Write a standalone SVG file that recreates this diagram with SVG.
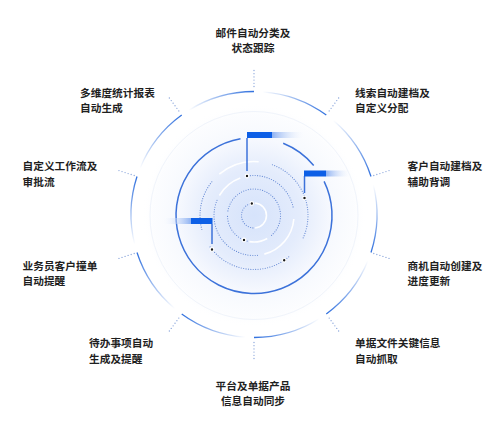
<svg xmlns="http://www.w3.org/2000/svg" width="500" height="426" viewBox="0 0 500 426">
<style>
.lbl{font-family:"Noto Sans CJK SC","Noto Sans",sans-serif;font-size:10.7px;font-weight:700;fill:#1f1f1f}
.mid{text-anchor:middle}
.tick{stroke:#87a3da;stroke-width:1.3;stroke-linecap:round;stroke-dasharray:0 3.2;fill:none}
.oarc{fill:none;stroke-width:1.3}
.dot{fill:none;stroke:#6a8dd6;stroke-width:1.2;stroke-linecap:round;stroke-dasharray:0 2.4}
.wht{fill:none;stroke:#ffffff;stroke-width:1.6;opacity:0.95}
.conn{stroke:#3c72da;stroke-width:1.5;fill:none}
.bar{fill:#0d5fe6}
.pt{fill:#1a1a1a;stroke:#ffffff;stroke-width:1.2}
</style>
<defs>
<radialGradient id="inner" cx="254" cy="215.5" r="78" gradientUnits="userSpaceOnUse">
<stop offset="0" stop-color="#d6e3fb"/>
<stop offset="0.6" stop-color="#e4ecfc"/>
<stop offset="1" stop-color="#f7f9fe"/>
</radialGradient>
<radialGradient id="halo" cx="254" cy="215.5" r="112" gradientUnits="userSpaceOnUse">
<stop offset="0.65" stop-color="#f2f6fd" stop-opacity="0.8"/>
<stop offset="0.9" stop-color="#f8fafe" stop-opacity="0.5"/>
<stop offset="1" stop-color="#ffffff" stop-opacity="0"/>
</radialGradient>
<linearGradient id="tailR" x1="0" y1="0" x2="1" y2="0">
<stop offset="0" stop-color="#8fb2f2"/>
<stop offset="1" stop-color="#ffffff" stop-opacity="0"/>
</linearGradient>
<linearGradient id="tailL" x1="1" y1="0" x2="0" y2="0">
<stop offset="0" stop-color="#8fb2f2"/>
<stop offset="1" stop-color="#ffffff" stop-opacity="0"/>
</linearGradient>
<linearGradient id="g0" gradientUnits="userSpaceOnUse" x1="254" y1="91.5" x2="188.8" y2="110.2"><stop offset="0" stop-color="#3070de"/><stop offset="1" stop-color="#3070de" stop-opacity="0"/></linearGradient>
<linearGradient id="g1" gradientUnits="userSpaceOnUse" x1="326.3" y1="115" x2="262.6" y2="91.8"><stop offset="0" stop-color="#3070de"/><stop offset="1" stop-color="#3070de" stop-opacity="0"/></linearGradient>
<linearGradient id="g2" gradientUnits="userSpaceOnUse" x1="371" y1="176.5" x2="333.1" y2="120.3"><stop offset="0" stop-color="#3070de"/><stop offset="1" stop-color="#3070de" stop-opacity="0"/></linearGradient>
<linearGradient id="g3" gradientUnits="userSpaceOnUse" x1="371" y1="252.5" x2="373.3" y2="184.7"><stop offset="0" stop-color="#3070de"/><stop offset="1" stop-color="#3070de" stop-opacity="0"/></linearGradient>
<linearGradient id="g4" gradientUnits="userSpaceOnUse" x1="326.3" y1="314" x2="368" y2="260.6"><stop offset="0" stop-color="#3070de"/><stop offset="1" stop-color="#3070de" stop-opacity="0"/></linearGradient>
<linearGradient id="g5" gradientUnits="userSpaceOnUse" x1="254" y1="337.5" x2="319.2" y2="318.8"><stop offset="0" stop-color="#3070de"/><stop offset="1" stop-color="#3070de" stop-opacity="0"/></linearGradient>
<linearGradient id="g6" gradientUnits="userSpaceOnUse" x1="181.7" y1="314" x2="245.4" y2="337.2"><stop offset="0" stop-color="#3070de"/><stop offset="1" stop-color="#3070de" stop-opacity="0"/></linearGradient>
<linearGradient id="g7" gradientUnits="userSpaceOnUse" x1="137" y1="252.5" x2="174.9" y2="308.7"><stop offset="0" stop-color="#3070de"/><stop offset="1" stop-color="#3070de" stop-opacity="0"/></linearGradient>
<linearGradient id="g8" gradientUnits="userSpaceOnUse" x1="137" y1="176.5" x2="134.7" y2="244.3"><stop offset="0" stop-color="#3070de"/><stop offset="1" stop-color="#3070de" stop-opacity="0"/></linearGradient>
<linearGradient id="g9" gradientUnits="userSpaceOnUse" x1="181.7" y1="115" x2="140" y2="168.4"><stop offset="0" stop-color="#3070de"/><stop offset="1" stop-color="#3070de" stop-opacity="0"/></linearGradient>
</defs>
<rect width="500" height="426" fill="#ffffff"/>

<g id="rings">
<circle cx="254" cy="215.5" r="112" fill="url(#halo)"/>
<circle cx="254" cy="215.5" r="104" fill="none" stroke="#f0f4fb" stroke-width="1"/>
<circle cx="254" cy="215.5" r="78" fill="url(#inner)"/>
<path class="conn" d="M283.2,143.2 A78,78 0 0 1 313.7,165.4"/>
<path class="conn" d="M324.1,181.3 A78,78 0 1 1 240.5,138.7"/>
<path class="dot" d="M272.47,164.76 A54,54 0 0 1 302.94,238.32"/>
<path class="dot" d="M288.71,256.86 A54,54 0 0 1 209.76,246.47"/>
<path class="dot" d="M201.84,229.48 A54,54 0 0 1 212.64,180.79"/>
<path class="wht" d="M219.29,174.14 A54,54 0 0 1 258.71,161.71"/>
<path class="dot" d="M245.68,176.38 A40,40 0 0 1 293.39,208.56"/>
<path class="wht" d="M293.85,218.99 A40,40 0 0 1 264.35,254.14"/>
<path class="dot" d="M257.49,255.35 A40,40 0 0 1 217.75,198.6"/>
<path class="wht" d="M219.36,195.5 A40,40 0 0 1 240.32,177.91"/>
<path class="dot" d="M227.9,210.9 A26.5,26.5 0 1 1 271.03,235.8"/>
<path class="wht" d="M267.25,238.45 A26.5,26.5 0 0 1 249.4,241.6"/>
<path class="dot" d="M247.14,241.1 A26.5,26.5 0 0 1 227.5,215.5"/>
<path class="dot" d="M252.91,227.95 A12.5,12.5 0 0 1 252.91,203.05"/>
<path class="wht" d="M255.09,203.05 A12.5,12.5 0 0 1 255.09,227.95"/>
</g>

<g id="outer">
<path class="oarc" stroke="url(#g0)" d="M188.8,110.2 A123,123 0 0 1 254,91.5"/>
<path class="oarc" stroke="url(#g1)" d="M262.6,91.8 A123,123 0 0 1 326.3,115"/>
<path class="oarc" stroke="url(#g2)" d="M333.1,120.3 A123,123 0 0 1 371,176.5"/>
<path class="oarc" stroke="url(#g3)" d="M373.3,184.7 A123,123 0 0 1 371,252.5"/>
<path class="oarc" stroke="url(#g4)" d="M368,260.6 A123,123 0 0 1 326.3,314"/>
<path class="oarc" stroke="url(#g5)" d="M319.2,318.8 A123,123 0 0 1 254,337.5"/>
<path class="oarc" stroke="url(#g6)" d="M245.4,337.2 A123,123 0 0 1 181.7,314"/>
<path class="oarc" stroke="url(#g7)" d="M174.9,308.7 A123,123 0 0 1 137,252.5"/>
<path class="oarc" stroke="url(#g8)" d="M134.7,244.3 A123,123 0 0 1 137,176.5"/>
<path class="oarc" stroke="url(#g9)" d="M140,168.4 A123,123 0 0 1 181.7,115"/>
</g>

<g id="connectors">
<line class="tick" x1="254" y1="86.5" x2="254" y2="67.5"/>
<line class="tick" x1="329.2" y1="110.9" x2="340.4" y2="95.6"/>
<line class="tick" x1="373.8" y1="175.5" x2="392" y2="169.6"/>
<line class="tick" x1="373.8" y1="253.5" x2="392" y2="259.4"/>
<line class="tick" x1="329.2" y1="318.1" x2="340.4" y2="333.4"/>
<line class="tick" x1="254" y1="342.5" x2="254" y2="361.5"/>
<line class="tick" x1="178.8" y1="318.1" x2="167.6" y2="333.4"/>
<line class="tick" x1="134.2" y1="253.5" x2="116" y2="259.4"/>
<line class="tick" x1="134.2" y1="175.5" x2="116" y2="169.6"/>
<line class="tick" x1="178.8" y1="110.9" x2="167.6" y2="95.6"/>
<line class="conn" x1="247" y1="138" x2="247" y2="171"/>
<line class="conn" x1="304.5" y1="176" x2="304.5" y2="193"/>
<line class="conn" x1="212" y1="224" x2="212" y2="244"/>
</g>

<g id="bars">
<rect x="272" y="132" width="34" height="6" fill="url(#tailR)"/>
<rect class="bar" x="247" y="132" width="25" height="6"/>
<rect x="326" y="170.5" width="26" height="6" fill="url(#tailR)"/>
<rect class="bar" x="304" y="170.5" width="22" height="6"/>
<rect x="162" y="218" width="29" height="6" fill="url(#tailL)"/>
<rect class="bar" x="191" y="218" width="21.5" height="6"/>
</g>

<g id="points">
<circle class="pt" cx="247" cy="176" r="1.8"/>
<circle class="pt" cx="304.5" cy="198" r="1.8"/>
<circle class="pt" cx="212" cy="249.5" r="1.8"/>
<circle class="pt" cx="251.8" cy="203.5" r="1.8"/>
<circle class="pt" cx="244" cy="240" r="1.8"/>
<circle class="pt" cx="284.2" cy="260.3" r="1.8"/>
</g>

<g id="n1"><text class="lbl mid" x="253" y="36.5">邮件自动分类及</text><text class="lbl mid" x="253" y="51.5">状态跟踪</text></g>
<g id="n2"><text class="lbl" x="355" y="97">线索自动建档及</text><text class="lbl" x="355" y="112">自定义分配</text></g>
<g id="n3"><text class="lbl" x="407.5" y="170">客户自动建档及</text><text class="lbl" x="407.5" y="185.5">辅助背调</text></g>
<g id="n4"><text class="lbl" x="407.5" y="270">商机自动创建及</text><text class="lbl" x="407.5" y="285">进度更新</text></g>
<g id="n5"><text class="lbl" x="355" y="347">单据文件关键信息</text><text class="lbl" x="355" y="363">自动抓取</text></g>
<g id="n6"><text class="lbl mid" x="253" y="390">平台及单据产品</text><text class="lbl mid" x="253" y="405">信息自动同步</text></g>
<g id="n7"><text class="lbl" x="89" y="347">待办事项自动</text><text class="lbl" x="89" y="363">生成及提醒</text></g>
<g id="n8"><text class="lbl" x="22.5" y="270">业务员客户撞单</text><text class="lbl" x="22.5" y="285">自动提醒</text></g>
<g id="n9"><text class="lbl" x="22.5" y="170">自定义工作流及</text><text class="lbl" x="22.5" y="185.5">审批流</text></g>
<g id="n10"><text class="lbl" x="80" y="97">多维度统计报表</text><text class="lbl" x="80" y="112">自动生成</text></g>
</svg>
